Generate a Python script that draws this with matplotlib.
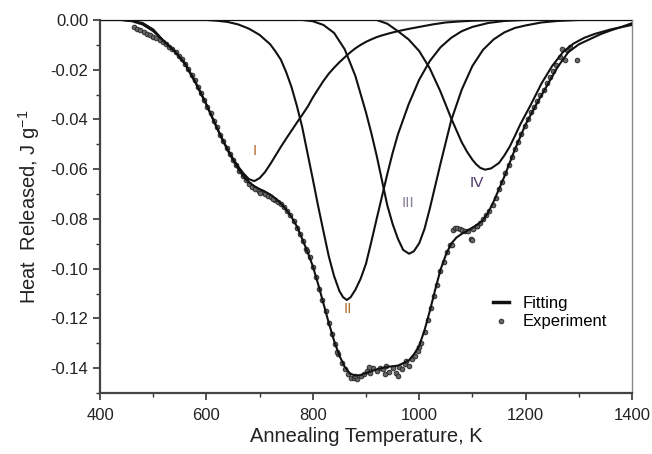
import matplotlib
matplotlib.use("Agg")
import matplotlib.pyplot as plt
from matplotlib.ticker import MultipleLocator, FormatStrFormatter

plt.rcParams['font.family'] = ['Liberation Sans', 'DejaVu Sans']
plt.rcParams['axes.unicode_minus'] = False
plt.rcParams['mathtext.default'] = 'regular'

# ---- data (T in K, heat in J/g) ----
fit_T = [440, 460, 480, 500, 520, 540, 560, 580, 600, 620, 640, 660, 670, 680, 690, 700,
         710, 720, 730, 740, 750, 760, 770, 780, 790, 800, 810, 820, 830, 840, 850, 860,
         870, 880, 890, 900, 920, 940, 960, 980, 990, 1000, 1010, 1020, 1030, 1040, 1050,
         1060, 1070, 1080, 1090, 1100, 1110, 1120, 1130, 1140, 1160, 1180, 1200, 1220,
         1240, 1260, 1280, 1300, 1320, 1340, 1360, 1380, 1400]
fit_v = [0.0, -0.0005, -0.0018, -0.0045, -0.0085, -0.0125, -0.0175, -0.0252, -0.0340,
         -0.0435, -0.0525, -0.0600, -0.0630, -0.0652, -0.0668, -0.0680, -0.0690, -0.0702,
         -0.0718, -0.0738, -0.0762, -0.0792, -0.0830, -0.0880, -0.0932, -0.0990, -0.1062,
         -0.1140, -0.1218, -0.1290, -0.1350, -0.1395, -0.1422, -0.1430, -0.1428, -0.1420,
         -0.1405, -0.1395, -0.1390, -0.1370, -0.1345, -0.1310, -0.1248, -0.1170, -0.1085,
         -0.1005, -0.0945, -0.0900, -0.0875, -0.0860, -0.0848, -0.0835, -0.0822, -0.0805,
         -0.0773, -0.0730, -0.0630, -0.0520, -0.0420, -0.0340, -0.0265, -0.0190, -0.0130,
         -0.0098, -0.0078, -0.0058, -0.0042, -0.0028, -0.0013]

p1_T = [400, 440, 460, 480, 500, 520, 540, 560, 580, 600, 620, 630, 640, 650, 660, 670,
        680, 690, 700, 710, 720, 730, 740, 750, 760, 770, 780, 790, 800, 810, 820, 830,
        840, 850, 860, 870, 880, 890, 900, 910, 920, 930, 945, 960, 980, 1000, 1025,
        1050, 1075, 1100, 1150, 1400]
p1_v = [0.0, 0.0, -0.0003, -0.0012, -0.0038, -0.0085, -0.0125, -0.0178, -0.0255, -0.0340,
        -0.0435, -0.0480, -0.0520, -0.0558, -0.0590, -0.0618, -0.0640, -0.0648, -0.0636,
        -0.0612, -0.0580, -0.0545, -0.0510, -0.0477, -0.0445, -0.0413, -0.0382, -0.0350,
        -0.0312, -0.0278, -0.0245, -0.0216, -0.0192, -0.0170, -0.0150, -0.0131, -0.0114,
        -0.0100, -0.0088, -0.0078, -0.0069, -0.0062, -0.0053, -0.0045, -0.0036, -0.0028,
        -0.0018, -0.0010, -0.0006, -0.0003, 0.0, 0.0]

p2_T = [400, 600, 620, 640, 660, 680, 700, 720, 730, 740, 750, 760, 770, 780, 790, 800,
        810, 820, 830, 840, 850, 857, 864, 871, 880, 890, 900, 910, 920, 930, 940, 950,
        960, 980, 1000, 1020, 1040, 1060, 1080, 1100, 1130, 1160, 1200, 1400]
p2_v = [0.0, 0.0, -0.0003, -0.0008, -0.0018, -0.0035, -0.0060, -0.0098, -0.0127, -0.0160,
        -0.0210, -0.0270, -0.0345, -0.0430, -0.0535, -0.0640, -0.0748, -0.0850, -0.0950,
        -0.1030, -0.1090, -0.1115, -0.1126, -0.1115, -0.1085, -0.1040, -0.0980, -0.0892,
        -0.0800, -0.0710, -0.0620, -0.0535, -0.0460, -0.0340, -0.0240, -0.0165, -0.0110,
        -0.0072, -0.0045, -0.0028, -0.0012, -0.0004, 0.0, 0.0]

p3_T = [400, 780, 800, 820, 840, 860, 880, 900, 910, 920, 930, 940, 950, 960, 970, 981,
        990, 1000, 1010, 1020, 1030, 1040, 1060, 1080, 1100, 1120, 1140, 1160, 1180,
        1200, 1230, 1260, 1300, 1400]
p3_v = [0.0, 0.0, -0.0005, -0.0020, -0.0052, -0.0118, -0.0225, -0.0372, -0.0455, -0.0545,
        -0.0645, -0.0745, -0.0820, -0.0880, -0.0925, -0.0940, -0.0930, -0.0898, -0.0840,
        -0.0758, -0.0668, -0.0578, -0.0405, -0.0280, -0.0185, -0.0120, -0.0078, -0.0050,
        -0.0032, -0.0022, -0.0010, -0.0004, 0.0, 0.0]

p4_T = [400, 920, 940, 960, 980, 1000, 1020, 1040, 1060, 1080, 1090, 1100, 1107, 1115,
        1124, 1135, 1150, 1160, 1170, 1180, 1190, 1210, 1230, 1250, 1270, 1290, 1310,
        1330, 1360, 1400]
p4_v = [0.0, 0.0, -0.0015, -0.0045, -0.0078, -0.0125, -0.0195, -0.0288, -0.0395, -0.0492,
        -0.0530, -0.0562, -0.0580, -0.0595, -0.0602, -0.0597, -0.0575, -0.0545, -0.0510,
        -0.0466, -0.0420, -0.0340, -0.0255, -0.0185, -0.0130, -0.0095, -0.0072, -0.0056,
        -0.0038, -0.0020]

exp_T = [464, 470, 476, 482, 488, 494, 500, 506, 512, 518, 524, 530, 536, 542, 548, 554,
         560, 566, 572, 578, 584, 590, 596, 602, 608, 614, 620, 626, 632, 638, 644, 650,
         656, 662, 668, 674, 680, 686, 692, 698, 704, 710, 716, 722, 728, 734, 740, 746,
         752, 758, 764, 770, 776, 782, 788, 794, 800, 806, 812, 818, 824, 830, 836, 842,
         848, 854, 860, 866, 872, 878, 884, 890, 896, 902, 908, 914, 920, 926, 932, 938,
         944, 950, 956, 962, 968, 974, 980, 986, 992, 998, 1004, 1010, 1016, 1022, 1028,
         1034, 1040, 1046, 1052, 1058, 1064, 1068, 1072, 1076, 1080, 1086, 1092, 1098,
         1102, 1108, 1114, 1120, 1126, 1132, 1138, 1144, 1150, 1156, 1162, 1168, 1174,
         1180, 1186, 1192, 1198, 1204, 1210, 1216, 1222, 1228, 1234, 1240, 1246, 1252,
         1258, 1264, 1268, 1274, 1278, 1284, 1296,
         880, 905, 935, 960, 975, 1061, 1099, 1108, 700, 725, 790, 845, 1000]
exp_v = [-0.0030, -0.0036, -0.0042, -0.0048, -0.0055, -0.0062, -0.0068, -0.0074, -0.0082,
         -0.0090, -0.0097, -0.0108, -0.0118, -0.0130, -0.0143, -0.0158, -0.0176, -0.0196,
         -0.0220, -0.0243, -0.0268, -0.0295, -0.0322, -0.0350, -0.0375, -0.0405, -0.0432,
         -0.0462, -0.0488, -0.0515, -0.0540, -0.0563, -0.0585, -0.0608, -0.0628, -0.0645,
         -0.0660, -0.0672, -0.0680, -0.0688, -0.0693, -0.0700, -0.0706, -0.0712, -0.0722,
         -0.0730, -0.0742, -0.0752, -0.0768, -0.0785, -0.0810, -0.0835, -0.0862, -0.0890,
         -0.0920, -0.0955, -0.0992, -0.1035, -0.1080, -0.1125, -0.1172, -0.1218, -0.1262,
         -0.1305, -0.1345, -0.1378, -0.1405, -0.1425, -0.1440, -0.1438, -0.1445, -0.1432,
         -0.1425, -0.1410, -0.1418, -0.1400, -0.1412, -0.1398, -0.1405, -0.1392, -0.1415,
         -0.1400, -0.1420, -0.1395, -0.1405, -0.1385, -0.1390, -0.1365, -0.1350, -0.1330,
         -0.1300, -0.1255, -0.1205, -0.1160, -0.1110, -0.1065, -0.1010, -0.0975, -0.0935,
         -0.0905, -0.0845, -0.0835, -0.0838, -0.0842, -0.0845, -0.0850, -0.0850, -0.0880,
         -0.0840, -0.0830, -0.0815, -0.0800, -0.0785, -0.0770, -0.0745, -0.0715, -0.0680,
         -0.0650, -0.0615, -0.0585, -0.0550, -0.0520, -0.0490, -0.0460, -0.0425, -0.0400,
         -0.0370, -0.0350, -0.0325, -0.0300, -0.0280, -0.0255, -0.0230, -0.0205, -0.0180,
         -0.0150, -0.0115, -0.0160, -0.0120, -0.0110, -0.0162,
         -0.1430, -0.1395, -0.1425, -0.1430, -0.1370, -0.0905, -0.0885, -0.0830,
         -0.0695, -0.0718, -0.0930, -0.1335, -0.1315]

peak_names = ['I', 'II', 'III', 'IV']
peak_label_T = [691, 866, 979, 1109]
peak_label_v = [-0.0525, -0.1162, -0.0734, -0.0654]
peak_label_col = ['#b07030', '#b07030', '#8a7f98', '#4a3468']

# ---- plot ----
fig = plt.figure(figsize=(6.52, 4.54), dpi=100)
ax = fig.add_axes([0.1534, 0.1344, 0.8159, 0.8216])

ax.plot(exp_T, exp_v, 'o', ms=3.4, color='#666666', mec='#222222', mew=0.6,
        label='Experiment', zorder=2)
ax.plot(fit_T, fit_v, color='#111111', lw=1.5, label='Fitting', zorder=3)
for T, v in [(p1_T, p1_v), (p2_T, p2_v), (p3_T, p3_v), (p4_T, p4_v)]:
    ax.plot(T, v, color='#111111', lw=1.5, zorder=3)

for name, x, y, c in zip(peak_names, peak_label_T, peak_label_v, peak_label_col):
    ax.text(x, y, name, color=c, fontsize=11, ha='center', va='center')

ax.set_xlim(400, 1400)
ax.set_ylim(-0.15, 0.0)
ax.xaxis.set_major_locator(MultipleLocator(200))
ax.xaxis.set_minor_locator(MultipleLocator(100))
ax.yaxis.set_major_locator(MultipleLocator(0.02))
ax.yaxis.set_minor_locator(MultipleLocator(0.01))
ax.yaxis.set_major_formatter(FormatStrFormatter('%.2f'))
ax.tick_params(which='major', length=5, width=1.2, color='#333333', labelsize=12,
               labelcolor='#222222', direction='out')
ax.tick_params(which='minor', length=3, width=1.0, color='#333333', direction='out')
ax.tick_params(axis='x', pad=6)

for s in ['left', 'bottom']:
    ax.spines[s].set_linewidth(1.6)
    ax.spines[s].set_color('#444444')
for s in ['top', 'right']:
    ax.spines[s].set_linewidth(1.0)
    ax.spines[s].set_color('#888888')

ax.set_xlabel('Annealing Temperature, K', fontsize=14.5, color='#222222', labelpad=3)
ax.set_ylabel('Heat  Released, J g$^{-1}$', fontsize=14.5, color='#222222', labelpad=6)

h, l = ax.get_legend_handles_labels()
leg = ax.legend([h[1], h[0]], [l[1], l[0]], loc='upper left', bbox_to_anchor=(0.71, 0.30),
                frameon=False, handlelength=1.0, handletextpad=0.8, labelspacing=0.2,
                fontsize=12)
leg.legend_handles[0].set_linewidth(2.5)

fig.savefig('out.png', dpi=100)
